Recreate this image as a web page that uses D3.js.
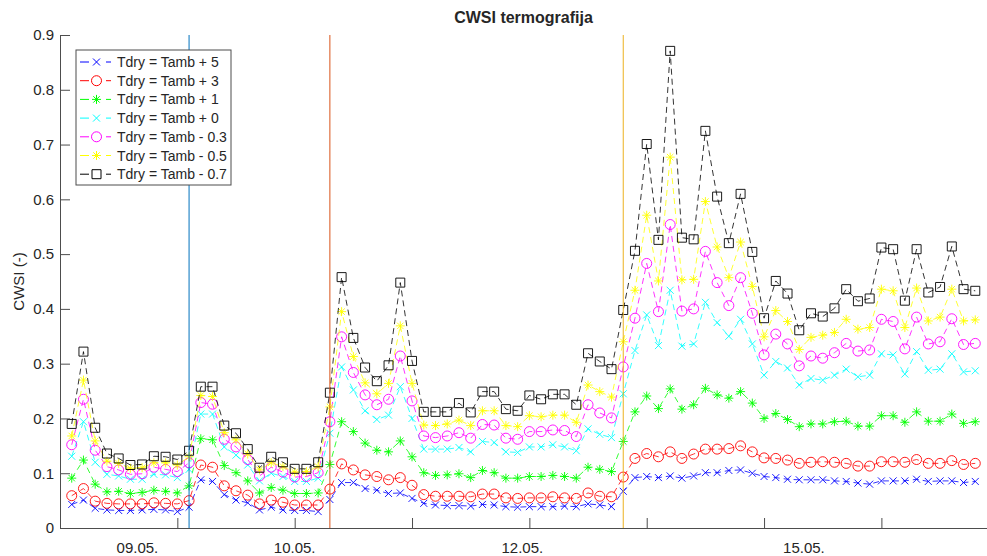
<!DOCTYPE html>
<html>
<head>
<meta charset="utf-8">
<script src="https://cdn.jsdelivr.net/npm/d3@7"></script>
<style>
  body { margin: 0; background: #fff; }
  text { font-family: "Liberation Sans", Arial, sans-serif; fill: #262626; }
</style>
</head>
<body>
<svg id="chart" width="987" height="556"></svg>
<script>
// data, one value per measurement (index 1..78)
let tPlus5 = [0.043,0.051,0.036,0.033,0.032,0.032,0.033,0.034,0.033,0.030,0.038,0.088,0.085,0.061,0.051,0.046,0.033,0.038,0.033,0.032,0.032,0.030,0.052,0.083,0.083,0.072,0.069,0.063,0.064,0.054,0.045,0.042,0.041,0.041,0.040,0.043,0.042,0.039,0.038,0.039,0.039,0.039,0.040,0.039,0.044,0.042,0.039,0.067,0.092,0.094,0.092,0.095,0.091,0.095,0.101,0.101,0.105,0.106,0.100,0.094,0.092,0.089,0.088,0.088,0.088,0.086,0.085,0.082,0.080,0.086,0.086,0.086,0.089,0.085,0.086,0.086,0.083,0.085];
let tPlus3 = [0.059,0.072,0.049,0.045,0.044,0.044,0.044,0.046,0.045,0.044,0.050,0.115,0.111,0.077,0.068,0.060,0.044,0.051,0.047,0.042,0.042,0.042,0.071,0.117,0.106,0.097,0.094,0.088,0.092,0.078,0.061,0.058,0.058,0.058,0.057,0.062,0.062,0.055,0.054,0.055,0.055,0.057,0.055,0.054,0.064,0.058,0.057,0.093,0.127,0.136,0.130,0.139,0.127,0.135,0.144,0.144,0.145,0.150,0.139,0.128,0.127,0.124,0.118,0.120,0.121,0.120,0.118,0.113,0.113,0.121,0.121,0.120,0.125,0.118,0.118,0.123,0.116,0.118];
let tPlus1 = [0.091,0.124,0.080,0.066,0.067,0.063,0.065,0.069,0.067,0.064,0.077,0.163,0.161,0.114,0.101,0.086,0.064,0.074,0.069,0.063,0.063,0.064,0.116,0.194,0.176,0.155,0.142,0.139,0.159,0.130,0.101,0.096,0.097,0.099,0.092,0.105,0.101,0.091,0.091,0.094,0.094,0.096,0.094,0.091,0.111,0.107,0.103,0.158,0.212,0.241,0.218,0.254,0.217,0.225,0.255,0.243,0.237,0.249,0.228,0.200,0.209,0.198,0.185,0.190,0.190,0.194,0.195,0.186,0.186,0.205,0.205,0.193,0.212,0.195,0.195,0.208,0.191,0.194];
let tPlus0 = [0.131,0.194,0.120,0.098,0.095,0.089,0.089,0.098,0.097,0.092,0.107,0.208,0.208,0.148,0.133,0.115,0.086,0.100,0.094,0.085,0.085,0.091,0.173,0.294,0.252,0.214,0.198,0.206,0.258,0.200,0.144,0.144,0.144,0.147,0.139,0.158,0.156,0.139,0.138,0.148,0.148,0.152,0.148,0.141,0.181,0.171,0.165,0.245,0.324,0.389,0.333,0.434,0.332,0.336,0.412,0.375,0.350,0.381,0.336,0.279,0.304,0.292,0.261,0.273,0.270,0.279,0.290,0.276,0.279,0.318,0.316,0.281,0.322,0.288,0.290,0.318,0.285,0.287];
let tMinus03 = [0.152,0.235,0.142,0.112,0.106,0.098,0.099,0.111,0.107,0.103,0.119,0.229,0.226,0.162,0.148,0.125,0.095,0.111,0.102,0.093,0.094,0.101,0.194,0.349,0.284,0.243,0.225,0.235,0.314,0.232,0.168,0.165,0.168,0.174,0.164,0.189,0.188,0.164,0.162,0.176,0.176,0.179,0.178,0.167,0.225,0.210,0.201,0.294,0.383,0.483,0.395,0.554,0.396,0.400,0.505,0.448,0.406,0.457,0.392,0.316,0.354,0.336,0.296,0.314,0.310,0.320,0.337,0.323,0.325,0.381,0.377,0.327,0.385,0.336,0.340,0.382,0.335,0.337];
let tMinus05 = [0.168,0.270,0.159,0.122,0.118,0.109,0.110,0.119,0.119,0.115,0.130,0.242,0.240,0.174,0.161,0.135,0.106,0.119,0.112,0.102,0.103,0.112,0.221,0.395,0.313,0.265,0.245,0.264,0.369,0.264,0.188,0.187,0.190,0.197,0.187,0.214,0.214,0.187,0.185,0.205,0.203,0.206,0.206,0.193,0.261,0.249,0.239,0.340,0.434,0.571,0.451,0.677,0.453,0.454,0.596,0.513,0.457,0.522,0.441,0.349,0.397,0.377,0.326,0.348,0.352,0.357,0.381,0.363,0.366,0.436,0.433,0.366,0.438,0.378,0.385,0.436,0.378,0.380];
let tMinus07 = [0.190,0.322,0.183,0.136,0.127,0.115,0.116,0.131,0.130,0.125,0.141,0.258,0.258,0.187,0.173,0.144,0.110,0.130,0.120,0.108,0.108,0.120,0.247,0.458,0.347,0.293,0.268,0.297,0.448,0.305,0.212,0.212,0.212,0.228,0.211,0.249,0.249,0.217,0.214,0.242,0.235,0.244,0.244,0.225,0.319,0.304,0.290,0.398,0.506,0.701,0.526,0.871,0.530,0.527,0.725,0.605,0.520,0.610,0.504,0.383,0.451,0.428,0.361,0.392,0.386,0.401,0.436,0.414,0.419,0.512,0.509,0.415,0.509,0.430,0.440,0.514,0.436,0.433];

let seriesNames = ["Tdry = Tamb + 5", "Tdry = Tamb + 3", "Tdry = Tamb + 1", "Tdry = Tamb + 0",
                   "Tdry = Tamb - 0.3", "Tdry = Tamb - 0.5", "Tdry = Tamb - 0.7"];
let seriesValues = [tPlus5, tPlus3, tPlus1, tPlus0, tMinus03, tMinus05, tMinus07];
let seriesColors = ["#0000ff", "#ff0000", "#00ff00", "#00ffff", "#ff00ff", "#ffff00", "#000000"];
let seriesMarkers = ["x", "o", "*", "x", "o", "*", "s"];

// vertical marker lines (measurement index) and their colours
let eventIdx = [11, 23, 48];
let eventColors = ["#0072bd", "#d95319", "#edb120"];

// axis ticks and date labels (date labels sit at their own index positions)
let xTicks = [10, 20, 30, 40, 50, 60, 70];
let yTicks = [0, 0.1, 0.2, 0.3, 0.4, 0.5, 0.6, 0.7, 0.8, 0.9];
let dateLabels = ["09.05.", "10.05.", "12.05.", "15.05."];
let dateLabelIdx = [6.6, 20, 39.4, 63.4];

// layout
let margin = {top: 35, right: 0, bottom: 28, left: 60},
    width = 987 - margin.left - margin.right,
    height = 556 - margin.top - margin.bottom;

let x = d3.scaleLinear().domain([0, 79]).range([0, width]);
let y = d3.scaleLinear().domain([0, 0.9]).range([height, 0]);

let svg = d3.select("#chart")
  .append("g")
    .attr("transform", "translate(" + margin.left + "," + margin.top + ")");

// marker shapes
function markerPath(type) {
  if (type == "x") return "M-3.5,-3.5L3.5,3.5M-3.5,3.5L3.5,-3.5";
  if (type == "*") return "M-4.5,0L4.5,0M0,-4.5L0,4.5M-3.2,-3.2L3.2,3.2M-3.2,3.2L3.2,-3.2";
  if (type == "s") return "M-4.5,-4.5H4.5V4.5H-4.5Z";
  return "M5,0A5,5 0 1,1 -5,0A5,5 0 1,1 5,0";
}

// series
let line = d3.line()
  .x(function(d, i) { return x(i + 1); })
  .y(function(d) { return y(d); });

seriesValues.forEach(function(vals, k) {
  let g = svg.append("g");
  g.append("path")
    .datum(vals)
    .attr("d", line)
    .attr("fill", "none")
    .attr("stroke", seriesColors[k])
    .attr("stroke-width", 0.8)
    .attr("stroke-dasharray", "6,4");
  g.selectAll(".m")
    .data(vals)
    .enter().append("path")
      .attr("transform", function(d, i) { return "translate(" + x(i + 1) + "," + y(d) + ")"; })
      .attr("d", markerPath(seriesMarkers[k]))
      .attr("fill", "none")
      .attr("stroke", seriesColors[k])
      .attr("stroke-width", 0.9);
});

// vertical event lines
svg.selectAll(".ev")
  .data(eventIdx)
  .enter().append("line")
    .attr("x1", function(d) { return x(d); })
    .attr("x2", function(d) { return x(d); })
    .attr("y1", 0)
    .attr("y2", height)
    .attr("stroke", function(d, i) { return eventColors[i]; })
    .attr("stroke-width", 1);

// axes
let yAxis = svg.append("g")
  .call(d3.axisLeft(y).tickValues(yTicks).tickSizeInner(-10).tickSizeOuter(0).tickPadding(6)
          .tickFormat(function(d) { return d == 0 ? "0" : d3.format(".1f")(d); }));
let xAxis = svg.append("g")
  .attr("transform", "translate(0," + height + ")")
  .call(d3.axisBottom(x).tickValues(xTicks).tickSizeInner(-10).tickSizeOuter(0).tickFormat(""));

[yAxis, xAxis].forEach(function(a) {
  a.select(".domain").attr("stroke", "#4d4d4d");
  a.selectAll(".tick line").attr("stroke", "#4d4d4d");
  a.selectAll("text").style("font-size", "15px").attr("fill", "#262626")
    .style("font-family", "'Liberation Sans', Arial, sans-serif");
});

svg.selectAll(".dl")
  .data(dateLabels)
  .enter().append("text")
    .attr("x", function(d, i) { return x(dateLabelIdx[i]); })
    .attr("y", height + 25)
    .attr("text-anchor", "middle")
    .style("font-size", "15px")
    .text(function(d) { return d; });

// axis title and chart title
svg.append("text")
  .attr("transform", "translate(" + (-36) + "," + (height / 2) + ") rotate(-90)")
  .attr("text-anchor", "middle")
  .style("font-size", "15px")
  .text("CWSI (-)");

svg.append("text")
  .attr("x", width / 2)
  .attr("y", -12)
  .attr("text-anchor", "middle")
  .style("font-size", "16px")
  .style("font-weight", "bold")
  .text("CWSI termografija");

// legend
let legend = svg.append("g").attr("transform", "translate(16,15)");
legend.append("rect")
  .attr("width", 155)
  .attr("height", 135)
  .attr("fill", "#fff")
  .attr("stroke", "#4d4d4d")
  .attr("stroke-width", 1);

seriesNames.forEach(function(name, k) {
  let row = legend.append("g").attr("transform", "translate(0," + (12 + k * 18.7) + ")");
  row.append("line")
    .attr("x1", 4).attr("x2", 35)
    .attr("stroke", seriesColors[k])
    .attr("stroke-width", 1)
    .attr("stroke-dasharray", "9,4,0,0");
  row.append("rect").attr("x", 14).attr("y", -6).attr("width", 12).attr("height", 12).attr("fill", "#fff");
  row.append("path")
    .attr("transform", "translate(20.5,0)")
    .attr("d", markerPath(seriesMarkers[k]))
    .attr("fill", "none")
    .attr("stroke", seriesColors[k])
    .attr("stroke-width", 1);
  row.append("text")
    .attr("x", 41)
    .attr("y", 5)
    .style("font-size", "14px")
    .text(name);
});
</script>
</body>
</html>
